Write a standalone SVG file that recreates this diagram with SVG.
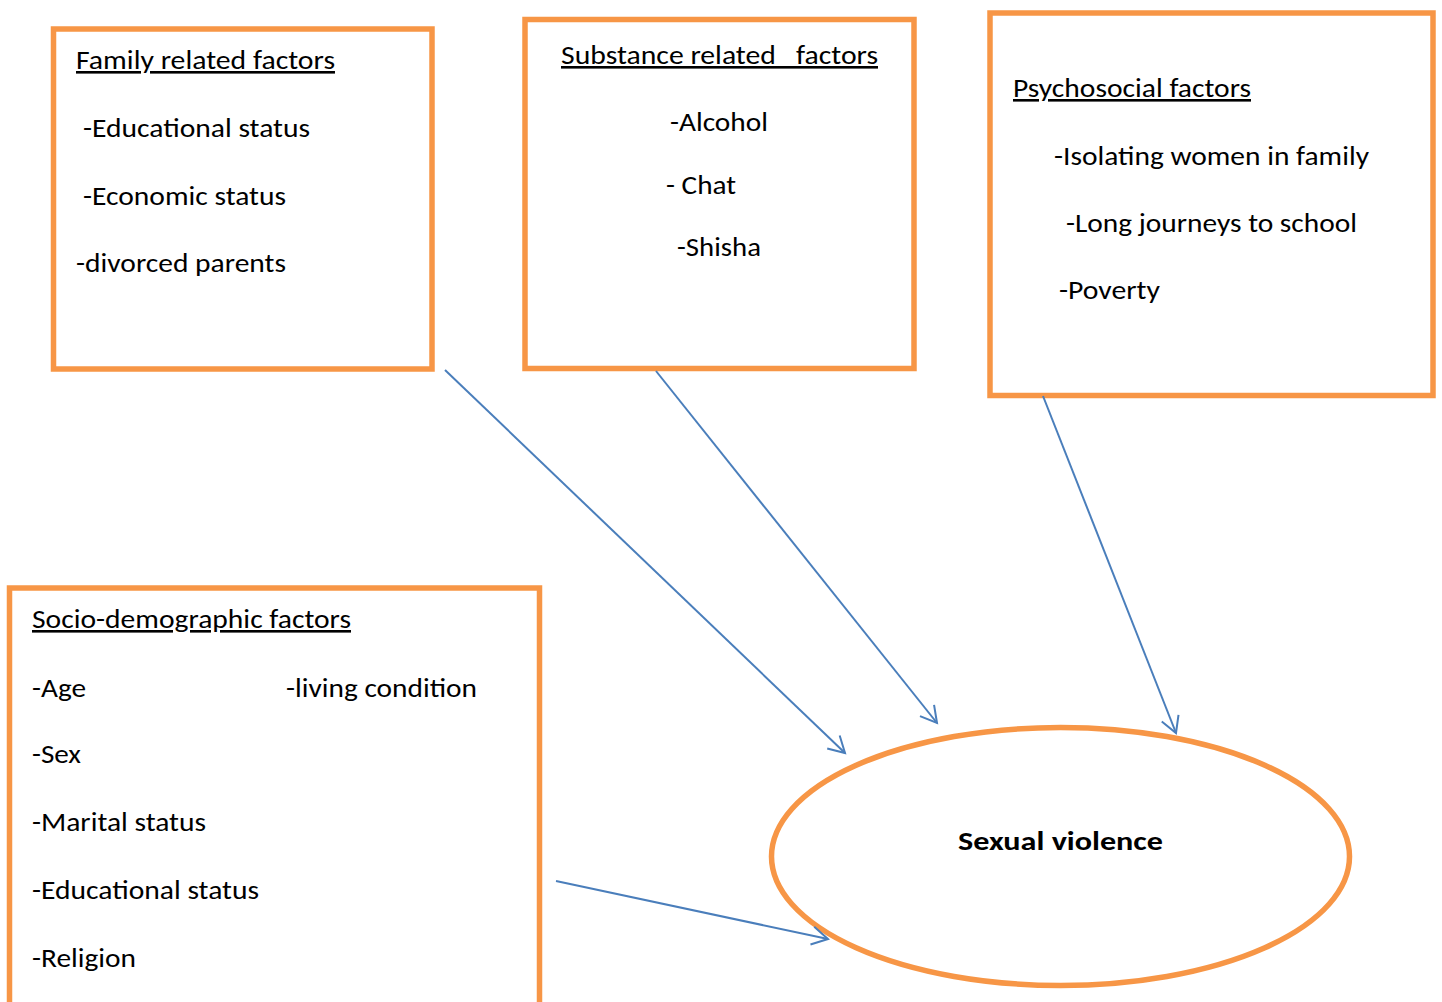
<svg xmlns="http://www.w3.org/2000/svg" width="1442" height="1002" viewBox="0 0 1442 1002">
<style>
.box{fill:#fff;stroke:#F79646;stroke-width:5.5}
.t{font-family:Carlito,Calibri,"Open Sans","Liberation Sans",sans-serif;font-size:26px;fill:#000}
.u{text-decoration:underline}
.b{font-weight:bold}
.c{stroke:#4A7EBB;stroke-width:2;fill:none}
</style>
<defs>
<marker id="ah" markerUnits="userSpaceOnUse" viewBox="-18 -11 20 22" markerWidth="20" markerHeight="22" refX="0" refY="0" orient="auto" overflow="visible">
<path d="M-16,-9 L0,0 L-16,9" fill="none" stroke="#4A7EBB" stroke-width="2"/>
</marker>
</defs>
<rect width="1442" height="1002" fill="#fff"/>
<g id="family">
<rect class="box" x="53.5" y="29" width="378.5" height="340"/>
<text class="t u" x="76" y="69" textLength="259" lengthAdjust="spacingAndGlyphs">Family related factors</text>
<text class="t" x="83" y="137" textLength="227" lengthAdjust="spacingAndGlyphs">-Educational status</text>
<text class="t" x="83" y="205" textLength="203" lengthAdjust="spacingAndGlyphs">-Economic status</text>
<text class="t" x="76" y="272" textLength="210" lengthAdjust="spacingAndGlyphs">-divorced parents</text>
</g>
<g id="substance">
<rect class="box" x="525" y="19.5" width="389" height="349"/>
<text class="t u" x="561" y="64" textLength="317" lengthAdjust="spacingAndGlyphs" xml:space="preserve">Substance related   factors</text>
<text class="t" x="670" y="131" textLength="98" lengthAdjust="spacingAndGlyphs">-Alcohol</text>
<text class="t" x="666" y="194" textLength="70" lengthAdjust="spacingAndGlyphs">- Chat</text>
<text class="t" x="677" y="256" textLength="84" lengthAdjust="spacingAndGlyphs">-Shisha</text>
</g>
<g id="psychosocial">
<rect class="box" x="990" y="13" width="443" height="382.5"/>
<text class="t u" x="1013" y="97" textLength="238" lengthAdjust="spacingAndGlyphs">Psychosocial factors</text>
<text class="t" x="1054" y="165" textLength="315" lengthAdjust="spacingAndGlyphs">-Isolating women in family</text>
<text class="t" x="1066" y="232" textLength="291" lengthAdjust="spacingAndGlyphs">-Long journeys to school</text>
<text class="t" x="1059" y="299" textLength="101" lengthAdjust="spacingAndGlyphs">-Poverty</text>
</g>
<g id="sociodemographic">
<rect class="box" x="9.5" y="588" width="530" height="430"/>
<text class="t u" x="32" y="628" textLength="319" lengthAdjust="spacingAndGlyphs">Socio-demographic factors</text>
<text class="t" x="32" y="697" textLength="54" lengthAdjust="spacingAndGlyphs">-Age</text>
<text class="t" x="286" y="697" textLength="191" lengthAdjust="spacingAndGlyphs">-living condition</text>
<text class="t" x="32" y="763" textLength="49" lengthAdjust="spacingAndGlyphs">-Sex</text>
<text class="t" x="32" y="831" textLength="174" lengthAdjust="spacingAndGlyphs">-Marital status</text>
<text class="t" x="32" y="899" textLength="227" lengthAdjust="spacingAndGlyphs">-Educational status</text>
<text class="t" x="32" y="967" textLength="104" lengthAdjust="spacingAndGlyphs">-Religion</text>
</g>
<g id="sexual-violence">
<ellipse class="box" cx="1060.5" cy="856.5" rx="289" ry="129"/>
<text class="t b" x="958" y="850" textLength="205" lengthAdjust="spacingAndGlyphs">Sexual violence</text>
</g>
<g id="connectors">
<line class="c" x1="445" y1="370" x2="845" y2="753" marker-end="url(#ah)"/>
<line class="c" x1="656" y1="371" x2="937" y2="723" marker-end="url(#ah)"/>
<line class="c" x1="1043" y1="396" x2="1176" y2="733" marker-end="url(#ah)"/>
<line class="c" x1="556" y1="881" x2="828" y2="939" marker-end="url(#ah)"/>
</g>
</svg>
